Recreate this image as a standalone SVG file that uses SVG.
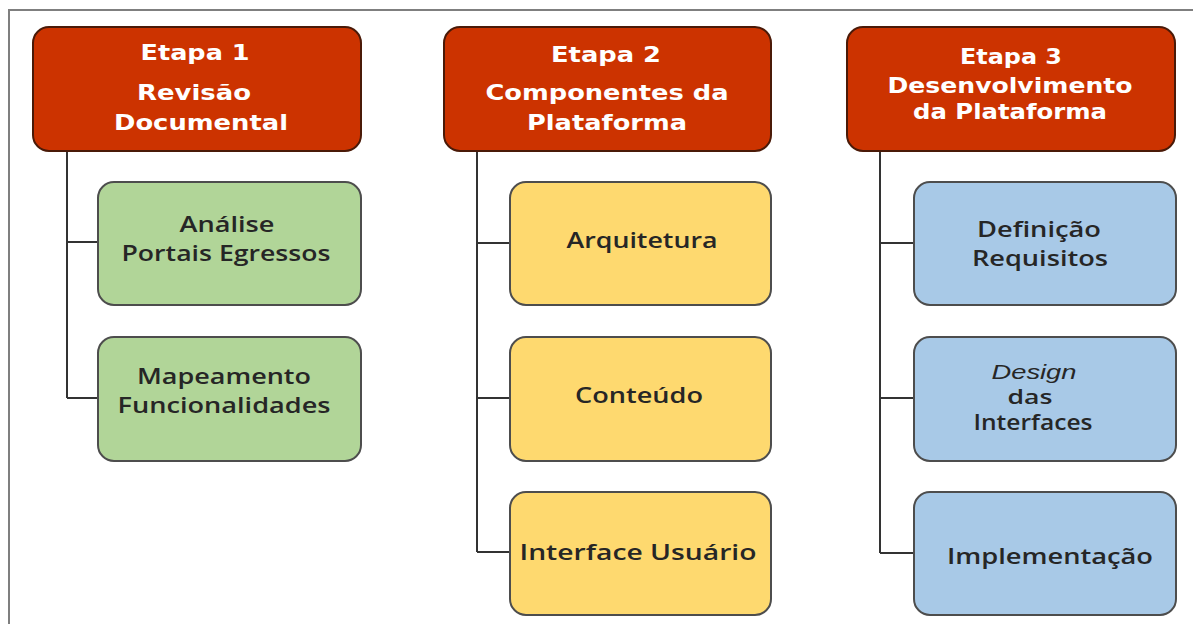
<svg xmlns="http://www.w3.org/2000/svg" width="1193" height="624" viewBox="0 0 1193 624">
<style>
.hdr{fill:#CC3300;stroke:#4a1a08;stroke-width:2}
.g{fill:#B1D598;stroke:#4d4d4d;stroke-width:2}
.y{fill:#FED96F;stroke:#4d4d4d;stroke-width:2}
.b{fill:#A8C9E7;stroke:#4d4d4d;stroke-width:2}
.ht{font-family:"DejaVu Sans",Verdana,sans-serif;font-weight:bold;font-size:21px;fill:#ffffff;text-anchor:middle}
.ct{font-family:"Open Sans","Noto Sans",sans-serif;font-weight:600;font-size:21px;fill:#262626;text-anchor:middle}
.sm{font-size:19px}
.it{font-family:"Liberation Sans",Arial,sans-serif;font-style:italic;font-weight:normal;font-size:20px}
.ln{fill:none;stroke:#333333;stroke-width:2}
</style>
<rect width="1193" height="624" fill="#ffffff"/>
<path d="M9,624 V10 H1193" fill="none" stroke="#7f7f7f" stroke-width="2"/>
<g id="connectors">
<path class="ln" d="M67,151 V398 M67,242 H98 M67,398 H98"/>
<path class="ln" d="M477,151 V552 M477,243 H510 M477,398 H510 M477,552 H510"/>
<path class="ln" d="M880,151 V553 M880,243 H914 M880,398 H914 M880,553 H914"/>
</g>
<g id="etapa1">
<rect class="hdr" x="33" y="27" width="328" height="124" rx="16"/>
<text class="ht" x="195" y="60" textLength="109" lengthAdjust="spacingAndGlyphs">Etapa 1</text>
<text class="ht" x="194" y="100" textLength="114" lengthAdjust="spacingAndGlyphs">Revisão</text>
<text class="ht" x="201" y="130" textLength="174" lengthAdjust="spacingAndGlyphs">Documental</text>
</g>
<g id="etapa2">
<rect class="hdr" x="444" y="27" width="327" height="124" rx="16"/>
<text class="ht" x="606" y="62" textLength="110" lengthAdjust="spacingAndGlyphs">Etapa 2</text>
<text class="ht" x="607" y="100" textLength="243" lengthAdjust="spacingAndGlyphs">Componentes da</text>
<text class="ht" x="607" y="130" textLength="160" lengthAdjust="spacingAndGlyphs">Plataforma</text>
</g>
<g id="etapa3">
<rect class="hdr" x="847" y="27" width="328" height="124" rx="16"/>
<text class="ht" x="1011" y="64" textLength="102" lengthAdjust="spacingAndGlyphs">Etapa 3</text>
<text class="ht" x="1010" y="93" textLength="245" lengthAdjust="spacingAndGlyphs">Desenvolvimento</text>
<text class="ht" x="1010" y="119" textLength="194" lengthAdjust="spacingAndGlyphs">da Plataforma</text>
</g>
<g id="analise">
<rect class="g" x="98" y="182" width="263" height="123" rx="16"/>
<text class="ct" x="227" y="232" textLength="95" lengthAdjust="spacingAndGlyphs">Análise</text>
<text class="ct" x="226" y="261" textLength="209" lengthAdjust="spacingAndGlyphs">Portais Egressos</text>
</g>
<g id="mapeamento">
<rect class="g" x="98" y="337" width="263" height="124" rx="16"/>
<text class="ct" x="224" y="384" textLength="174" lengthAdjust="spacingAndGlyphs">Mapeamento</text>
<text class="ct" x="224" y="413" textLength="213" lengthAdjust="spacingAndGlyphs">Funcionalidades</text>
</g>
<g id="arquitetura">
<rect class="y" x="510" y="182" width="261" height="123" rx="16"/>
<text class="ct" x="642" y="248" textLength="151" lengthAdjust="spacingAndGlyphs">Arquitetura</text>
</g>
<g id="conteudo">
<rect class="y" x="510" y="337" width="261" height="124" rx="16"/>
<text class="ct" x="639" y="403" textLength="128" lengthAdjust="spacingAndGlyphs">Conteúdo</text>
</g>
<g id="interface-usuario">
<rect class="y" x="510" y="492" width="261" height="123" rx="16"/>
<text class="ct" x="638" y="560" textLength="237" lengthAdjust="spacingAndGlyphs">Interface Usuário</text>
</g>
<g id="definicao">
<rect class="b" x="914" y="182" width="262" height="123" rx="16"/>
<text class="ct" x="1039" y="237" textLength="124" lengthAdjust="spacingAndGlyphs">Definição</text>
<text class="ct" x="1040" y="266" textLength="136" lengthAdjust="spacingAndGlyphs">Requisitos</text>
</g>
<g id="design">
<rect class="b" x="914" y="337" width="262" height="124" rx="16"/>
<text class="ct it" x="1034" y="379" textLength="85" lengthAdjust="spacingAndGlyphs">Design</text>
<text class="ct sm" x="1030" y="404" textLength="45" lengthAdjust="spacingAndGlyphs">das</text>
<text class="ct" x="1033" y="430" textLength="119" lengthAdjust="spacingAndGlyphs">Interfaces</text>
</g>
<g id="implementacao">
<rect class="b" x="914" y="492" width="262" height="123" rx="16"/>
<text class="ct" x="1050" y="564" textLength="206" lengthAdjust="spacingAndGlyphs">Implementação</text>
</g>
</svg>
